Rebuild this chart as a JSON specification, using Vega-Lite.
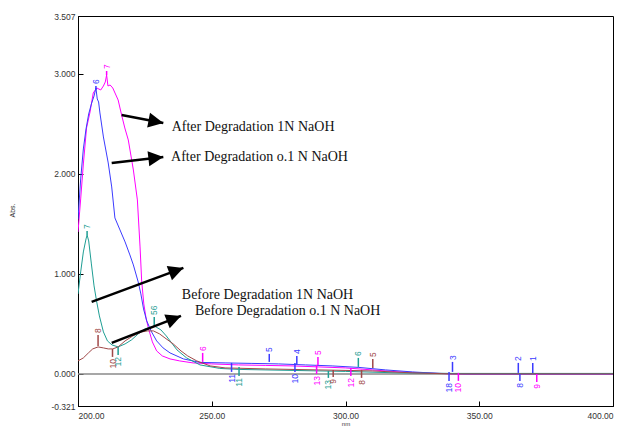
{
  "$schema": "https://vega.github.io/schema/vega-lite/v6.json",
  "width": 535,
  "height": 390,
  "autosize": {"type": "none"},
  "padding": {"left": 78, "top": 16, "right": 13, "bottom": 20},
  "background": "white",
  "config": {
    "view": {"stroke": "#000", "strokeWidth": 1},
    "axis": {"grid": false, "domainColor": "#000", "tickColor": "#000", "labelFont": "Liberation Sans", "labelFontSize": 8.5, "labelColor": "#333", "titleFont": "Liberation Sans", "titleFontSize": 7, "titleFontWeight": "normal", "titleColor": "#333", "tickSize": -5}
  },
  "datasets": {
    "curves": [
      {"s": "m", "nm": 200.0, "v": 1.42}, {"s": "m", "nm": 201.0, "v": 1.75}, {"s": "m", "nm": 202.0, "v": 2.10}, {"s": "m", "nm": 203.2, "v": 2.46}, {"s": "m", "nm": 204.5, "v": 2.62}, {"s": "m", "nm": 205.7, "v": 2.81}, {"s": "m", "nm": 207.0, "v": 2.86}, {"s": "m", "nm": 208.5, "v": 2.84}, {"s": "m", "nm": 209.5, "v": 2.88}, {"s": "m", "nm": 210.2, "v": 2.92}, {"s": "m", "nm": 210.7, "v": 2.99}, {"s": "m", "nm": 211.2, "v": 2.88}, {"s": "m", "nm": 212.0, "v": 2.89}, {"s": "m", "nm": 213.0, "v": 2.86}, {"s": "m", "nm": 214.0, "v": 2.80}, {"s": "m", "nm": 215.0, "v": 2.74}, {"s": "m", "nm": 216.3, "v": 2.59}, {"s": "m", "nm": 217.5, "v": 2.46}, {"s": "m", "nm": 218.8, "v": 2.34}, {"s": "m", "nm": 220.7, "v": 2.04}, {"s": "m", "nm": 222.2, "v": 1.74}, {"s": "m", "nm": 223.2, "v": 1.27}, {"s": "m", "nm": 223.8, "v": 0.93}, {"s": "m", "nm": 224.6, "v": 0.70}, {"s": "m", "nm": 225.5, "v": 0.55}, {"s": "m", "nm": 226.3, "v": 0.46}, {"s": "m", "nm": 227.8, "v": 0.32}, {"s": "m", "nm": 229.4, "v": 0.23}, {"s": "m", "nm": 231.5, "v": 0.18}, {"s": "m", "nm": 234.4, "v": 0.15}, {"s": "m", "nm": 238.0, "v": 0.13}, {"s": "m", "nm": 243.0, "v": 0.11}, {"s": "m", "nm": 250, "v": 0.10}, {"s": "m", "nm": 260, "v": 0.09}, {"s": "m", "nm": 270, "v": 0.085}, {"s": "m", "nm": 280, "v": 0.08}, {"s": "m", "nm": 290, "v": 0.07}, {"s": "m", "nm": 300, "v": 0.06}, {"s": "m", "nm": 310, "v": 0.04}, {"s": "m", "nm": 320, "v": 0.02}, {"s": "m", "nm": 330, "v": 0.01}, {"s": "m", "nm": 340, "v": 0.0}, {"s": "m", "nm": 370, "v": 0.0}, {"s": "m", "nm": 400, "v": 0.0},
      {"s": "b", "nm": 200.0, "v": 1.55}, {"s": "b", "nm": 201.0, "v": 1.95}, {"s": "b", "nm": 202.0, "v": 2.25}, {"s": "b", "nm": 203.0, "v": 2.45}, {"s": "b", "nm": 204.0, "v": 2.60}, {"s": "b", "nm": 205.0, "v": 2.70}, {"s": "b", "nm": 206.0, "v": 2.78}, {"s": "b", "nm": 206.7, "v": 2.86}, {"s": "b", "nm": 207.2, "v": 2.75}, {"s": "b", "nm": 207.7, "v": 2.72}, {"s": "b", "nm": 208.2, "v": 2.61}, {"s": "b", "nm": 209.5, "v": 2.37}, {"s": "b", "nm": 211.3, "v": 2.11}, {"s": "b", "nm": 212.6, "v": 1.87}, {"s": "b", "nm": 213.8, "v": 1.56}, {"s": "b", "nm": 215.7, "v": 1.44}, {"s": "b", "nm": 217.6, "v": 1.32}, {"s": "b", "nm": 219.4, "v": 1.19}, {"s": "b", "nm": 220.7, "v": 1.09}, {"s": "b", "nm": 222.5, "v": 0.92}, {"s": "b", "nm": 223.5, "v": 0.80}, {"s": "b", "nm": 224.5, "v": 0.65}, {"s": "b", "nm": 225.7, "v": 0.53}, {"s": "b", "nm": 227.5, "v": 0.42}, {"s": "b", "nm": 229.4, "v": 0.33}, {"s": "b", "nm": 231.8, "v": 0.26}, {"s": "b", "nm": 234.4, "v": 0.21}, {"s": "b", "nm": 239.4, "v": 0.15}, {"s": "b", "nm": 245.6, "v": 0.115}, {"s": "b", "nm": 255, "v": 0.11}, {"s": "b", "nm": 265, "v": 0.105}, {"s": "b", "nm": 275, "v": 0.10}, {"s": "b", "nm": 285, "v": 0.09}, {"s": "b", "nm": 295, "v": 0.08}, {"s": "b", "nm": 305, "v": 0.065}, {"s": "b", "nm": 315, "v": 0.04}, {"s": "b", "nm": 325, "v": 0.02}, {"s": "b", "nm": 335, "v": 0.005}, {"s": "b", "nm": 345, "v": 0.0}, {"s": "b", "nm": 400, "v": 0.0},
      {"s": "t", "nm": 200.0, "v": 0.80}, {"s": "t", "nm": 201.0, "v": 1.02}, {"s": "t", "nm": 202.0, "v": 1.22}, {"s": "t", "nm": 203.0, "v": 1.35}, {"s": "t", "nm": 203.4, "v": 1.39}, {"s": "t", "nm": 204.0, "v": 1.33}, {"s": "t", "nm": 205.0, "v": 1.10}, {"s": "t", "nm": 206.0, "v": 0.88}, {"s": "t", "nm": 207.0, "v": 0.72}, {"s": "t", "nm": 208.0, "v": 0.58}, {"s": "t", "nm": 209.5, "v": 0.42}, {"s": "t", "nm": 211.0, "v": 0.33}, {"s": "t", "nm": 212.7, "v": 0.29}, {"s": "t", "nm": 215.0, "v": 0.27}, {"s": "t", "nm": 217.6, "v": 0.30}, {"s": "t", "nm": 220.0, "v": 0.34}, {"s": "t", "nm": 222.5, "v": 0.40}, {"s": "t", "nm": 225.0, "v": 0.45}, {"s": "t", "nm": 228.5, "v": 0.48}, {"s": "t", "nm": 231.0, "v": 0.44}, {"s": "t", "nm": 233.0, "v": 0.38}, {"s": "t", "nm": 235.0, "v": 0.31}, {"s": "t", "nm": 237.0, "v": 0.24}, {"s": "t", "nm": 240.6, "v": 0.16}, {"s": "t", "nm": 245.6, "v": 0.09}, {"s": "t", "nm": 253.0, "v": 0.055}, {"s": "t", "nm": 260, "v": 0.045}, {"s": "t", "nm": 280, "v": 0.035}, {"s": "t", "nm": 300, "v": 0.025}, {"s": "t", "nm": 320, "v": 0.01}, {"s": "t", "nm": 340, "v": 0.005}, {"s": "t", "nm": 400, "v": 0.005},
      {"s": "r", "nm": 200.0, "v": 0.13}, {"s": "r", "nm": 202.0, "v": 0.16}, {"s": "r", "nm": 203.9, "v": 0.21}, {"s": "r", "nm": 205.5, "v": 0.25}, {"s": "r", "nm": 207.5, "v": 0.27}, {"s": "r", "nm": 209.5, "v": 0.26}, {"s": "r", "nm": 211.3, "v": 0.25}, {"s": "r", "nm": 213.0, "v": 0.25}, {"s": "r", "nm": 215.0, "v": 0.27}, {"s": "r", "nm": 217.6, "v": 0.33}, {"s": "r", "nm": 220.5, "v": 0.38}, {"s": "r", "nm": 223.8, "v": 0.42}, {"s": "r", "nm": 226.0, "v": 0.43}, {"s": "r", "nm": 228.2, "v": 0.43}, {"s": "r", "nm": 230.5, "v": 0.40}, {"s": "r", "nm": 232.5, "v": 0.36}, {"s": "r", "nm": 235.6, "v": 0.30}, {"s": "r", "nm": 238.5, "v": 0.23}, {"s": "r", "nm": 241.0, "v": 0.18}, {"s": "r", "nm": 244.4, "v": 0.13}, {"s": "r", "nm": 249.4, "v": 0.08}, {"s": "r", "nm": 255, "v": 0.06}, {"s": "r", "nm": 270, "v": 0.05}, {"s": "r", "nm": 290, "v": 0.04}, {"s": "r", "nm": 310, "v": 0.03}, {"s": "r", "nm": 325, "v": 0.01}, {"s": "r", "nm": 340, "v": 0.0}, {"s": "r", "nm": 400, "v": 0.0}
    ],
    "markers": [
      {"nm": 206.7, "base": 2.84, "tip": 2.88, "lab": "6", "s": "b", "dir": "u"},
      {"nm": 210.7, "base": 2.99, "tip": 3.03, "lab": "7", "s": "m", "dir": "u"},
      {"nm": 203.4, "base": 1.39, "tip": 1.43, "lab": "7", "s": "t", "dir": "u"},
      {"nm": 207.5, "base": 0.28, "tip": 0.39, "lab": "8", "s": "r", "dir": "u"},
      {"nm": 228.5, "base": 0.47, "tip": 0.57, "lab": "56", "s": "t", "dir": "u"},
      {"nm": 246.6, "base": 0.12, "tip": 0.21, "lab": "6", "s": "m", "dir": "u"},
      {"nm": 271.5, "base": 0.12, "tip": 0.20, "lab": "5", "s": "b", "dir": "u"},
      {"nm": 281.8, "base": 0.10, "tip": 0.18, "lab": "4", "s": "b", "dir": "u"},
      {"nm": 289.7, "base": 0.09, "tip": 0.17, "lab": "5", "s": "m", "dir": "u"},
      {"nm": 304.8, "base": 0.07, "tip": 0.16, "lab": "6", "s": "t", "dir": "u"},
      {"nm": 310.2, "base": 0.06, "tip": 0.15, "lab": "5", "s": "r", "dir": "u"},
      {"nm": 340.0, "base": 0.02, "tip": 0.12, "lab": "3", "s": "b", "dir": "u"},
      {"nm": 364.6, "base": 0.01, "tip": 0.11, "lab": "2", "s": "b", "dir": "u"},
      {"nm": 370.0, "base": 0.01, "tip": 0.11, "lab": "1", "s": "b", "dir": "u"},
      {"nm": 212.9, "base": 0.25, "tip": 0.17, "lab": "10", "s": "r", "dir": "d"},
      {"nm": 215.0, "base": 0.27, "tip": 0.19, "lab": "12", "s": "t", "dir": "d"},
      {"nm": 257.4, "base": 0.11, "tip": 0.02, "lab": "11", "s": "b", "dir": "d"},
      {"nm": 260.2, "base": 0.07, "tip": -0.02, "lab": "11", "s": "t", "dir": "d"},
      {"nm": 281.1, "base": 0.11, "tip": 0.02, "lab": "10", "s": "b", "dir": "d"},
      {"nm": 289.2, "base": 0.09, "tip": 0.0, "lab": "13", "s": "m", "dir": "d"},
      {"nm": 293.6, "base": 0.03, "tip": -0.04, "lab": "13", "s": "t", "dir": "d"},
      {"nm": 295.4, "base": 0.04, "tip": -0.03, "lab": "9", "s": "r", "dir": "d"},
      {"nm": 302.0, "base": 0.06, "tip": -0.02, "lab": "12", "s": "m", "dir": "d"},
      {"nm": 306.0, "base": 0.04, "tip": -0.04, "lab": "8", "s": "r", "dir": "d"},
      {"nm": 338.7, "base": 0.02, "tip": -0.07, "lab": "18", "s": "b", "dir": "d"},
      {"nm": 342.2, "base": 0.01, "tip": -0.07, "lab": "10", "s": "m", "dir": "d"},
      {"nm": 365.2, "base": 0.0, "tip": -0.07, "lab": "8", "s": "b", "dir": "d"},
      {"nm": 371.5, "base": 0.0, "tip": -0.08, "lab": "9", "s": "m", "dir": "d"}
    ],
    "ann": [
      {"x1": 216.3, "y1": 2.59, "x2": 231.9, "y2": 2.51, "ang": 10.9, "tx": 235.0, "ty": 2.47, "label": "After Degradation 1N NaOH"},
      {"x1": 212.6, "y1": 2.11, "x2": 231.9, "y2": 2.17, "ang": -6.6, "tx": 234.8, "ty": 2.17, "label": "After Degradation o.1 N NaOH"},
      {"x1": 205.1, "y1": 0.72, "x2": 239.4, "y2": 1.06, "ang": -20.3, "tx": 238.8, "ty": 0.79, "label": "Before Degradation 1N NaOH"},
      {"x1": 212.6, "y1": 0.31, "x2": 238.5, "y2": 0.58, "ang": -21.3, "tx": 243.7, "ty": 0.63, "label": "Before Degradation o.1 N NaOH"}
    ]
  },
  "layer": [
    {
      "data": {"values": [{"z": 0}]},
      "mark": {"type": "rule", "color": "#8a8a8a", "strokeWidth": 1.5},
      "encoding": {
        "y": {"field": "z", "type": "quantitative", "scale": {"domain": [-0.321, 3.58], "nice": false, "zero": false},
          "axis": {"values": [-0.321, 0, 1, 2, 3, 3.58], "labelExpr": "datum.value > 3.5 ? '3.507' : (datum.value < 0 ? '-0.321' : format(datum.value, '.3f'))", "labelPadding": 8, "title": "Abs.", "titleX": -63, "titleY": 194}}
      }
    },
    {
      "data": {"name": "curves"},
      "mark": {"type": "line", "strokeWidth": 1, "clip": true},
      "encoding": {
        "x": {"field": "nm", "type": "quantitative", "scale": {"domain": [200, 400], "nice": false, "zero": false},
          "axis": {"values": [200, 250, 300, 350, 400], "format": ".2f", "labelPadding": 10, "title": "nm", "titleFontSize": 6, "titleY": 14.5}},
        "y": {"field": "v", "type": "quantitative"},
        "color": {"field": "s", "type": "nominal", "scale": {"domain": ["m", "b", "t", "r"], "range": ["#ff00ff", "#3b3bff", "#1f9e94", "#a04848"]}, "legend": null},
        "detail": {"field": "s"}
      }
    },
    {
      "data": {"name": "markers"},
      "mark": {"type": "rule", "strokeWidth": 1.5},
      "encoding": {
        "x": {"field": "nm", "type": "quantitative"},
        "y": {"field": "base", "type": "quantitative"},
        "y2": {"field": "tip"},
        "color": {"field": "s", "type": "nominal", "legend": null}
      }
    },
    {
      "data": {"name": "markers"},
      "transform": [{"filter": "datum.dir == 'u'"}],
      "mark": {"type": "text", "angle": 270, "align": "left", "baseline": "middle", "dx": 2, "font": "Liberation Sans", "fontSize": 8.5},
      "encoding": {
        "x": {"field": "nm", "type": "quantitative"},
        "y": {"field": "tip", "type": "quantitative"},
        "text": {"field": "lab"},
        "color": {"field": "s", "type": "nominal", "legend": null}
      }
    },
    {
      "data": {"name": "markers"},
      "transform": [{"filter": "datum.dir == 'd'"}],
      "mark": {"type": "text", "angle": 270, "align": "right", "baseline": "middle", "dx": -2, "font": "Liberation Sans", "fontSize": 8.5},
      "encoding": {
        "x": {"field": "nm", "type": "quantitative"},
        "y": {"field": "tip", "type": "quantitative"},
        "text": {"field": "lab"},
        "color": {"field": "s", "type": "nominal", "legend": null}
      }
    },
    {
      "data": {"name": "ann"},
      "mark": {"type": "rule", "color": "#000", "strokeWidth": 2.5},
      "encoding": {
        "x": {"field": "x1", "type": "quantitative"},
        "y": {"field": "y1", "type": "quantitative"},
        "x2": {"field": "x2"},
        "y2": {"field": "y2"}
      }
    },
    {
      "data": {"name": "ann"},
      "mark": {"type": "point", "shape": "M0,0L-1,-0.5L-1,0.5Z", "filled": true, "color": "#000", "opacity": 1, "size": 900},
      "encoding": {
        "x": {"field": "x2", "type": "quantitative"},
        "y": {"field": "y2", "type": "quantitative"},
        "angle": {"field": "ang", "type": "quantitative", "scale": null}
      }
    },
    {
      "data": {"name": "ann"},
      "mark": {"type": "text", "align": "left", "baseline": "middle", "font": "Liberation Serif", "fontSize": 14, "color": "#111"},
      "encoding": {
        "x": {"field": "tx", "type": "quantitative"},
        "y": {"field": "ty", "type": "quantitative"},
        "text": {"field": "label"}
      }
    }
  ]
}
